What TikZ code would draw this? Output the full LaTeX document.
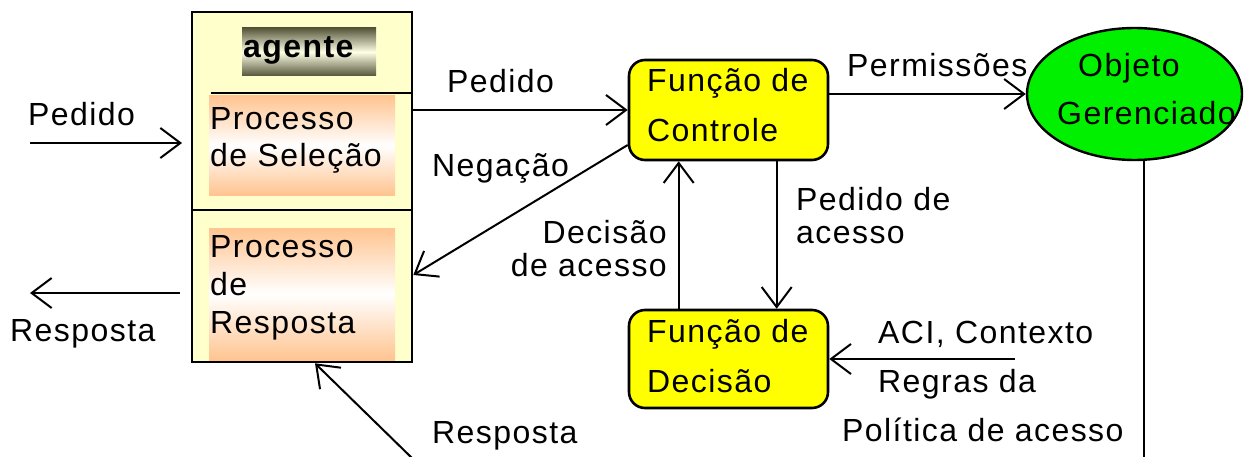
\documentclass[tikz,border=0pt]{standalone}
\usepackage{fontspec}
\setmainfont{Liberation Sans}[LetterSpace=4.5]
\usetikzlibrary{arrows.meta,shapes.geometric,calc}
\definecolor{agentfill}{HTML}{FFFFCC}
\definecolor{olive}{HTML}{55553A}
\definecolor{olivelight}{HTML}{FFFFE6}
\definecolor{peach}{HTML}{FFC490}
\definecolor{fnyellow}{HTML}{FFFF00}
\definecolor{objgreen}{HTML}{00F000}
\begin{document}
\begin{tikzpicture}[x=1pt,y=-1pt,
  every node/.style={font=\fontsize{32}{38}\selectfont},
  lbl/.style={anchor=base west,inner sep=0pt},
  agentbox/.style={draw,line width=2.6pt,fill=agentfill,inner sep=0pt},
  procbox/.style={inner sep=0pt,top color=peach,bottom color=peach,middle color=white},
  tagbox/.style={inner sep=0pt,top color=olive,bottom color=olive,middle color=olivelight},
  fnbox/.style={draw,line width=2.6pt,fill=fnyellow,rounded corners=16pt,inner sep=0pt,minimum width=199pt},
  objshape/.style={draw,line width=2.4pt,fill=objgreen,ellipse,inner sep=0pt,minimum width=215pt,minimum height=132pt},
  arr/.style={line width=2pt,-{Straight Barb[length=20pt,width=30pt,line width=2pt]}},
  plain/.style={line width=2pt}]
\useasboundingbox (0,0) rectangle (1249,457);

% agent box
\node[agentbox,minimum width=220pt,minimum height=350pt] (agent) at (302,187) {};
\draw[line width=2.2pt] ($(agent.north west)+(20,82)$) -- ($(agent.north east)+(0,82)$);
\draw[line width=2.2pt] ($(agent.north west)+(0,199)$) -- ($(agent.north east)+(0,199)$);
\node[tagbox,minimum width=134pt,minimum height=48pt] (tag) at (309,52) {};
\node[lbl,font=\fontsize{32}{38}\selectfont\bfseries] (tagtxt) at (243,58) {agente};
\node[procbox,minimum width=186pt,minimum height=99pt] (sel) at (302,145.5) {};
\node[lbl] (sel1) at (210,130) {Processo};
\node[lbl] (sel2) at (210,167) {de Seleção};
\node[procbox,minimum width=186pt,minimum height=132pt] (resp) at (302,294) {};
\node[lbl] (resp1) at (210,257) {Processo};
\node[lbl] (resp2) at (210,295) {de};
\node[lbl] (resp3) at (210,333) {Resposta};

% function boxes
\node[fnbox,minimum height=100pt] (ctrl) at (728.5,110) {};
\node[lbl] (ctrl1) at (647,92) {Função de};
\node[lbl] (ctrl2) at (647,142) {Controle};
\node[fnbox,minimum height=98pt] (dec) at (728.5,359) {};
\node[lbl] (dec1) at (647,342) {Função de};
\node[lbl] (dec2) at (647,392) {Decisão};

% managed object
\node[objshape] (obj) at (1134.5,94) {};
\node[lbl] (obj1) at (1078,77) {Objeto};
\node[lbl] (obj2) at (1057,125) {Gerenciado};

% free ends
\coordinate (pinS) at (30,143);
\coordinate (pinE) at (182,143);
\coordinate (routS) at (180,293);
\coordinate (routE) at (30,293);
\coordinate (rin) at (414,460);
\coordinate (aciS) at (1015,359);

% connectors
\draw[arr] (pinS) -- (pinE);
\draw[arr] (routS) -- (routE);
\draw[arr] (agent.east |- ctrl.west) -- (ctrl.west);
\draw[arr] ($(ctrl.west)+(0,35)$) -- ($(agent.east)+(0,88)$);
\draw[arr] ($(dec.north west)+(51,0)$) -- ($(ctrl.south west)+(51,0)$);
\draw[arr] ($(ctrl.south west)+(149,0)$) -- ($(dec.north west)+(149,0)$);
\draw[arr] (ctrl.east |- obj.west) -- (obj.west);
\draw[arr] (aciS) -- (dec.east);
\draw[plain] ($(obj.south)+(9,0)$) -- ++(0,320);
\draw[arr] (rin) -- ($(agent.south)+(13,0)$);

% labels
\node[lbl] (lPedIn) at (28,126) {Pedido};
\node[lbl] (lRespOut) at (10,341) {Resposta};
\node[lbl] (lPed) at (447,93) {Pedido};
\node[lbl] (lNeg) at (432,176) {Negação};
\node[anchor=base east,inner sep=0pt] (lDec1) at (667,243) {Decisão};
\node[anchor=base east,inner sep=0pt] (lDec2) at (667,276) {de acesso};
\node[lbl] (lPA1) at (796,211) {Pedido de};
\node[lbl] (lPA2) at (796,243) {acesso};
\node[lbl] (lPerm) at (847,77) {Permissões};
\node[lbl] (lACI) at (878,343) {ACI, Contexto};
\node[lbl] (lReg) at (878,392) {Regras da};
\node[lbl] (lPol) at (842,441) {Política de acesso};
\node[lbl] (lRespIn) at (432,443) {Resposta};
\end{tikzpicture}
\end{document}
